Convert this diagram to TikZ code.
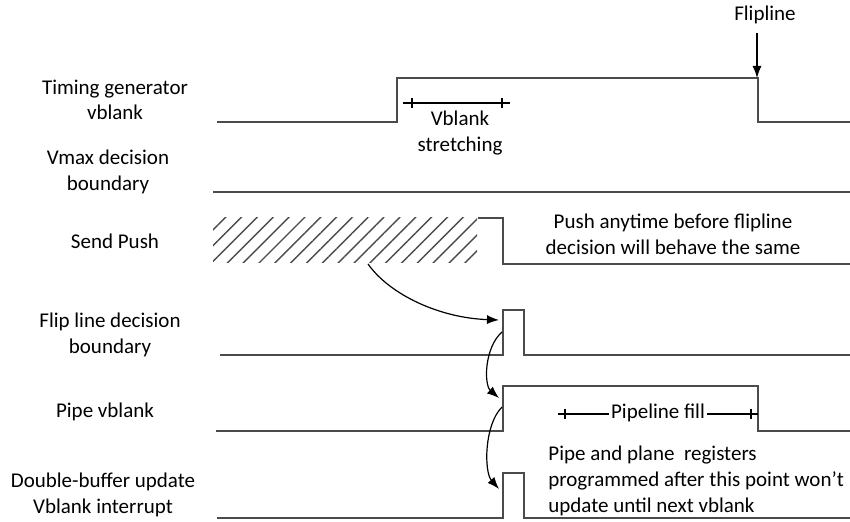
\documentclass[tikz,border=0pt]{standalone}
\usepackage{fontspec}
\setmainfont{Carlito}
\usetikzlibrary{arrows.meta, patterns.meta}
\definecolor{wavegray}{RGB}{75,75,75}

\begin{document}
\begin{tikzpicture}[x=0.5pt, y=-0.5pt,
      lbl/.style={align=center, inner sep=0pt, font=\fontsize{10.5}{12.8}\selectfont},
      wave/.style={draw=wavegray, line width=1pt},
      hatch/.style={pattern={Lines[angle=45, distance=5.6pt, line width=0.7pt]},
                    pattern color=wavegray},
      arr/.style={-{Latex[length=6pt, width=4.5pt]}, line width=0.6pt},
      dim/.style={line width=0.6pt}]
    \useasboundingbox (0,0) rectangle (850,522);
    % signal names
    \node[lbl] (tg) at (115,100) {Timing generator\\vblank};
    \node[lbl] (vmax) at (108,172) {Vmax decision\\boundary};
    \node[lbl] (push) at (115,241) {Send Push};
    \node[lbl] (fdb) at (110,335) {Flip line decision\\boundary};
    \node[lbl] (pipe) at (105,412) {Pipe vblank};
    \node[lbl] (dbuf) at (103,495) {Double-buffer update\\Vblank interrupt};
    % waveforms
    \draw[wave] (217,122) -- (397,122) -- (397,78) -- (758,78) -- (758,122) -- (850,122);
    \draw[wave] (213,192) -- (850,192);
    \fill[hatch] (213,218) rectangle (477,263);
    \draw[wave] (478,218) -- (503,218) -- (503,264) -- (850,264);
    \draw[wave] (220,355) -- (503,355) -- (503,310) -- (524,310) -- (524,355) -- (850,355);
    \draw[wave] (216,431) -- (503,431) -- (503,386) -- (758,386) -- (758,431) -- (850,431);
    \draw[wave] (217,518) -- (503,518) -- (503,473) -- (524,473) -- (524,518) -- (850,518);
    % flipline marker
    \node[lbl] (flip) at (765,15) {Flipline};
    \coordinate (fl) at (757,78);
    \draw[arr] (flip.south -| fl) ++(0,9) -- (fl);
    % vblank stretching
    \draw[dim] (403,103) -- (510,103);
    \foreach \x in {412,502}
      \draw[dim] (\x,98) -- (\x,108);
    \node[lbl] (stretch) at (460,133) {Vblank\\stretching};
    % pipeline fill
    \draw[dim] (558,414) -- (758,414);
    \foreach \x in {565,751}
      \draw[dim] (\x,409) -- (\x,419);
    \node[lbl, fill=white, inner xsep=1pt] (fill) at (658,413) {Pipeline fill};
    % notes
    \node[lbl] (anytime) at (673,234) {Push anytime before flipline\\decision will behave the same};
    \node[lbl, align=left, anchor=west] (regs) at (548,481)
      {Pipe and plane\ \ registers\\programmed after this point won't\\update until next vblank};
    % causal arrows
    \coordinate (hatchend) at (368,264);
    \coordinate (fdin) at (499,320);
    \coordinate (fdout) at (502,332);
    \coordinate (pvin) at (499,398);
    \coordinate (pvout) at (502,407);
    \coordinate (dbin) at (499,489);
    \draw[arr] (hatchend) .. controls (390,295) and (440,318) .. (fdin);
    \draw[arr] (fdout) .. controls (484,348) and (484,385) .. (pvin);
    \draw[arr] (pvout) .. controls (484,425) and (484,472) .. (dbin);
\end{tikzpicture}
\end{document}
